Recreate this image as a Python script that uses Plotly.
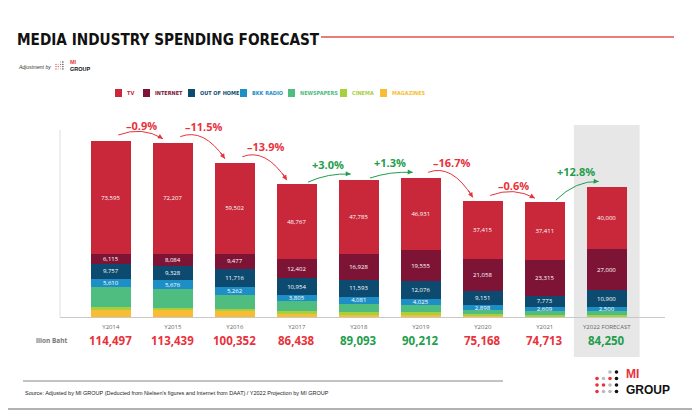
import plotly.graph_objects as go

# ---- data (million baht) ----
years = ["Y2014", "Y2015", "Y2016", "Y2017", "Y2018", "Y2019", "Y2020", "Y2021", "Y2022 FORECAST"]
tv = [73595, 72207, 59502, 48767, 47785, 46931, 37415, 37411, 40000]
internet = [6115, 8084, 9477, 12402, 16928, 19555, 21058, 23315, 27000]
out_of_home = [9757, 9328, 11716, 10954, 11593, 12076, 9151, 7773, 10900]
bkk_radio = [5610, 5676, 5262, 3805, 4081, 4025, 2898, 2609, 2500]
newspapers = [13166, 12332, 9300, 6900, 5500, 4500, 3000, 2500, 2300]
cinema = [1562, 1424, 1500, 1800, 1700, 1800, 800, 500, 1000]
magazines = [4692, 4388, 3595, 1810, 1506, 1325, 846, 605, 550]
totals = [114497, 113439, 100352, 86438, 89093, 90212, 75168, 74713, 84250]
changes = ["-0.9%", "-11.5%", "-13.9%", "+3.0%", "+1.3%", "-16.7%", "-0.6%", "+12.8%"]

RED = "#e8323c"
GREEN = "#1f9e4c"

series = [
    ("MAGAZINES", magazines, "#f8bd35", False),
    ("CINEMA", cinema, "#a8cf3c", False),
    ("NEWSPAPERS", newspapers, "#4fbd7f", False),
    ("BKK RADIO", bkk_radio, "#1e8fc6", True),
    ("OUT OF HOME", out_of_home, "#0c4a70", True),
    ("INTERNET", internet, "#7e1435", True),
    ("TV", tv, "#c8283a", True),
]

# the page puts the figure 8px in from the corner, so work in window pixels
OFF = 8
W, H = 700 - OFF, 411 - OFF
L, R, T, B = 60, 665, 105, 317  # plot area in window pixels
YMAX = 114497 * (B - T) / 176.0
ypx = YMAX / (B - T)  # data units per pixel


def px(x):
    return (x - L) / (R - L)


def py(y):
    return (B - y) / (B - T)


fig = go.Figure()
xs = list(range(len(years)))
for name, vals, color, labelled in series:
    fig.add_trace(go.Bar(
        x=xs, y=vals, name=name, marker_color=color, marker_line_width=0,
        text=[f"{v:,}" for v in vals] if labelled else None,
        textposition="inside", insidetextanchor="middle",
        textfont=dict(color="white", size=6, family="Open Sans"),
        hoverinfo="y+name",
    ))

shapes = []
annotations = []


def note(x, y, text, size, color, family="Liberation Sans", xanchor="center"):
    annotations.append(dict(x=x, y=y, xref="paper", yref="paper", xanchor=xanchor,
                            yanchor="middle", align="left", text=text, showarrow=False,
                            font=dict(size=size, color=color, family=family)))


# highlight for forecast year
shapes.append(dict(type="rect", xref="x", yref="paper", x0=7.47, x1=8.53,
                   y0=py(357), y1=py(125), fillcolor="#e7e7e7", line_width=0, layer="below"))
# left axis line
shapes.append(dict(type="line", xref="paper", yref="paper", x0=0, x1=0, y0=0, y1=py(130),
                   line=dict(color="#dedede", width=1)))

# totals under the bars
for i, t in enumerate(totals):
    up = i > 0 and t > totals[i - 1]
    annotations.append(dict(x=i, y=py(340), xref="x", yref="paper", xanchor="center",
                            yanchor="middle", text=f"<b>{t:,}</b>", showarrow=False,
                            font=dict(size=11.5, color=GREEN if up else RED, family="Open Sans")))
note(px(70), py(340), "<b>llion Baht</b>", 6.5, "#777", "Open Sans", "right")

# change arrows between bars
for i, lab in enumerate(changes):
    up = lab.startswith("+")
    col = GREEN if up else RED
    t0, t1 = totals[i], totals[i + 1]
    if up:
        x0, y0 = i + 0.18, t0 + 2 * ypx
        x1, y1 = i + 1 - 0.13, t1 + 6 * ypx
        cx, cy = i + 0.5, y1 + 1 * ypx
    else:
        x0, y0 = i + 0.12, t0 + 6 * ypx
        x1, y1 = i + 1 - 0.16, t1 + 4 * ypx
        cx, cy = i + 0.5, y0 + 9 * ypx
    shapes.append(dict(type="path", xref="x", yref="y",
                       path=f"M {x0},{y0} Q {cx},{cy} {x1},{y1}",
                       line=dict(color=col, width=1)))
    annotations.append(dict(x=x1, y=y1, ax=x1 - 0.25 * (x1 - cx), ay=y1 - 0.25 * (y1 - cy),
                            xref="x", yref="y", axref="x", ayref="y", text="",
                            showarrow=True, arrowhead=2, arrowsize=1, arrowwidth=1, arrowcolor=col))
    annotations.append(dict(x=i + 0.5, y=(max(t0, t1) + 16 * ypx) / YMAX, xref="x", yref="paper",
                            xanchor="center", yanchor="middle",
                            text=f"<b>{lab.replace('-', '–')}</b>", showarrow=False,
                            font=dict(size=11, color=col, family="Open Sans")))

# title block
note(px(15), py(40), "<b>MEDIA INDUSTRY SPENDING FORECAST</b>", 15.2, "#111",
     "DejaVu Sans Condensed", "left")
shapes.append(dict(type="line", xref="paper", yref="paper", x0=px(321), x1=px(674),
                   y0=py(37), y1=py(37), line=dict(color="#e0534f", width=1.5)))
note(px(16), py(67), "<i>Adjustment by</i>", 5, "#333", "Liberation Sans", "left")


def logo(x, y, s, fs, gap):
    cols = [["", "", "#bbb", "#111"], ["#e8323c", "#bbb", "#e8323c", "#111"],
            ["#e8323c", "#e8323c", "#bbb", "#111"], ["#e8323c", "#bbb", "#bbb", "#111"]]
    for r, row in enumerate(cols):
        for c, cc in enumerate(row):
            if not cc:
                continue
            cxp, cyp = x + c * s, y + r * s
            d = s * 0.28
            shapes.append(dict(type="circle", xref="paper", yref="paper",
                               x0=px(cxp - d), x1=px(cxp + d), y0=py(cyp + d), y1=py(cyp - d),
                               fillcolor=cc, line_width=0))
    note(px(x + 3 * s + gap), py(y + 1.6 * s),
         "<span style='color:#e8323c'><b>MI</b></span><br><b>GROUP</b>",
         fs, "#111", "Liberation Sans", "left")


logo(56, 62, 2.3, 5.5, 5)
logo(597, 372, 6.5, 12, 7)

# legend
legend_items = [("TV", "#c8283a", 115), ("INTERNET", "#7e1435", 143), ("OUT OF HOME", "#0c4a70", 188),
                ("BKK RADIO", "#1e8fc6", 240), ("NEWSPAPERS", "#4fbd7f", 288),
                ("CINEMA", "#a8cf3c", 340), ("MAGAZINES", "#f8bd35", 380)]
for name, color, x in legend_items:
    shapes.append(dict(type="rect", xref="paper", yref="paper", x0=px(x), x1=px(x + 7),
                       y0=py(97), y1=py(89), fillcolor=color, line_width=0))
    note(px(x + 10), py(93), f"<b>{name}</b>", 5.5, color, "DejaVu Sans Condensed", "left")

# footer
shapes.append(dict(type="line", xref="paper", yref="paper", x0=px(23), x1=px(503),
                   y0=py(381), y1=py(381), line=dict(color="#888", width=1)))
note(px(23), py(393),
     "Source: Adjusted by MI GROUP (Deducted from Nielsen's figures and Internet from DAAT) / Y2022 Projection by MI GROUP",
     5.5, "#222", "Liberation Sans", "left")
shapes.append(dict(type="line", xref="paper", yref="paper", x0=px(0), x1=px(700),
                   y0=py(409), y1=py(409), line=dict(color="#999", width=1.5)))

fig.update_layout(
    barmode="stack", bargap=0.355, width=W, height=H,
    margin=dict(l=L - OFF, r=700 - R, t=T - OFF, b=411 - B, autoexpand=False),
    paper_bgcolor="white", plot_bgcolor="rgba(0,0,0,0)",
    showlegend=False, shapes=shapes, annotations=annotations,
    uniformtext=dict(minsize=5, mode="show"),
    xaxis=dict(range=[-0.82, 8.94], tickvals=xs, ticktext=years, showgrid=False, zeroline=False,
               showline=True, linecolor="#c8c8c8", linewidth=1, ticks="", ticklabelstandoff=4,
               tickfont=dict(size=6, color="#666", family="Open Sans")),
    yaxis=dict(range=[0, YMAX], showgrid=False, zeroline=False, showticklabels=False,
               showline=False),
)

fig.write_html("out.html")
